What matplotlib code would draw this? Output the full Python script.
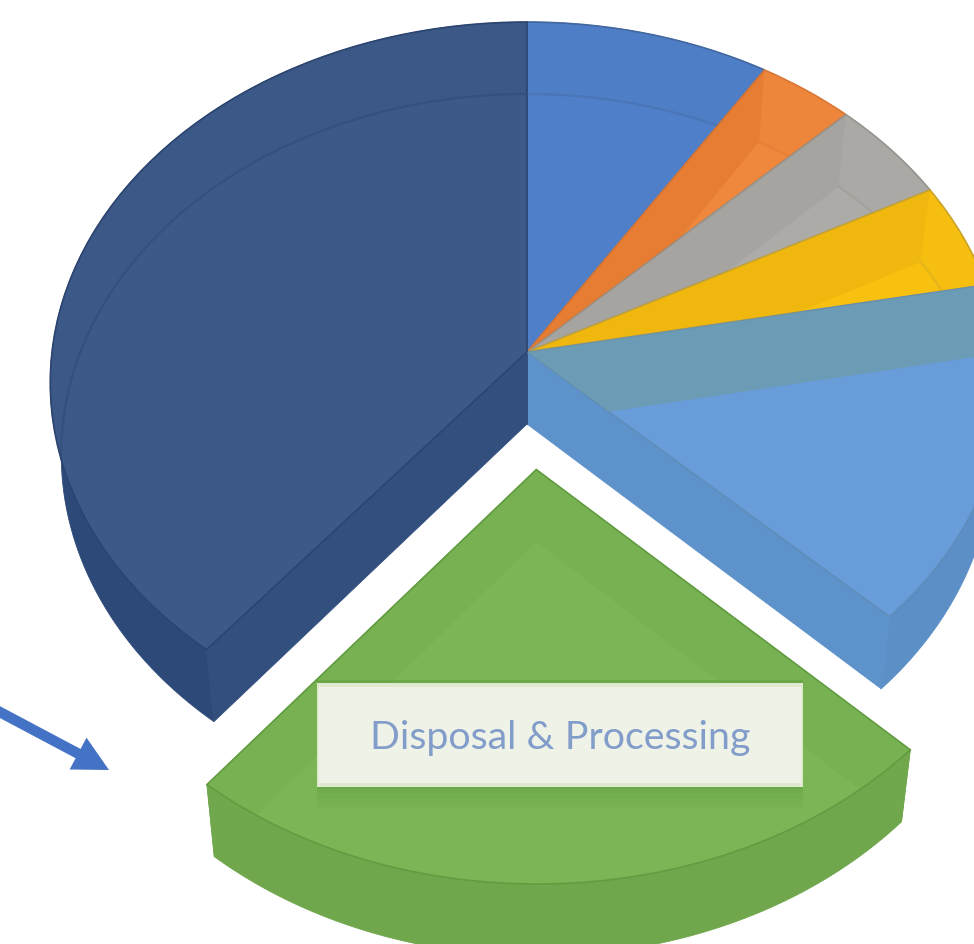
import numpy as np
import matplotlib
matplotlib.use('Agg')
import matplotlib.pyplot as plt
from matplotlib.patches import Polygon, Rectangle
from matplotlib.transforms import Transform

plt.rcParams['font.family'] = ['Lato', 'DejaVu Sans']

# shares of each slice, clockwise from twelve o'clock
shares = [9.0, 3.6, 4.6, 4.75, 15.3, 23.6, 39.15]
pulled_out = [0, 0, 0, 0, 0, 0.32, 0]
callout = 'Disposal & Processing'

top_colors = ['#4f7fc8', '#ef873c', '#adaba8', '#f8c00f', '#689dd9', '#7bb556', '#3c5987']
edge_colors = ['#44689f', '#d9793a', '#96958f', '#c9a52e', '#5f8cbc', '#639c42', '#2c4570']
wall_colors = ['#3f6cb0', '#cf7030', '#8f8d8a', '#d5a30f', '#5d92ca', '#71a84e', '#324f7e']
rim_colors = ['#3f6cb0', '#cf7030', '#8f8d8a', '#d5a30f', '#5b8fc6', '#70a74c', '#2d4978']
seen_through = ['#3c66ad', '#d96f26', '#96948f', '#e0a80c', '#6f9ba6', '#5f9c3c', '#2f4a78']
seen_alpha = [0.2, 0.4, 0.3, 0.3, 0.7, 0.12, 0.1]

CX, CY = 527, 352
RX, RY = 475, 358
TILT = 0.085
DEPTH = 72
FLOOR_SHRINK = 0.977


class TiltTransform(Transform):
    # lays the unit pie on a receding plane, result is in pixels with y going down
    input_dims = 2
    output_dims = 2

    def transform_non_affine(self, values):
        values = np.asarray(values, dtype=float)
        w = 1 + TILT * values[:, 1]
        return np.column_stack([CX + RX * values[:, 0] / w, CY - RY * values[:, 1] / w])


def floor_of(pts):
    return np.column_stack([CX + (pts[:, 0] - CX) * FLOOR_SHRINK, pts[:, 1] + DEPTH])


def arc_of(wedge, n=120):
    t = np.radians(np.linspace(wedge.theta1, wedge.theta2, n))
    u = wedge.center[0] + wedge.r * np.cos(t)
    v = wedge.center[1] + wedge.r * np.sin(t)
    return tilt.transform(np.column_stack([u, v]))


def radial_of(wedge, theta):
    t = np.radians(theta)
    uv = np.array([wedge.center, [wedge.center[0] + wedge.r * np.cos(t), wedge.center[1] + wedge.r * np.sin(t)]])
    return tilt.transform(uv)


def band(top_pts):
    return np.vstack([top_pts, floor_of(top_pts)[::-1]])


fig = plt.figure(figsize=(9.74, 9.44), dpi=100)
ax = fig.add_axes([0, 0, 1, 1])
tilt = TiltTransform()

wedges, _ = ax.pie(shares, startangle=90, counterclock=False, explode=pulled_out, colors=top_colors,
                   wedgeprops={'linewidth': 1.2})
ax.set_aspect('auto')
ax.set_xlim(0, 974)
ax.set_ylim(944, 0)
ax.axis('off')

for i, wedge in enumerate(wedges):
    wedge.set_transform(tilt + ax.transData)
    wedge.set_edgecolor(edge_colors[i])
    wedge.set_zorder(3)

    # outer rim and the two cut faces under the top surface
    arc = arc_of(wedge)
    ax.add_patch(Polygon(band(arc), closed=True, fc=rim_colors[i], ec=rim_colors[i], lw=0.6, zorder=1))
    for theta in (wedge.theta1, wedge.theta2):
        ax.add_patch(Polygon(band(radial_of(wedge, theta)), closed=True, fc=wall_colors[i], ec=wall_colors[i],
                             lw=0.6, zorder=2))

    # the surface is translucent, so the far walls and floor edge show through it
    for theta in (wedge.theta1, wedge.theta2):
        shade = Polygon(band(radial_of(wedge, theta)), closed=True, fc=seen_through[i], ec='none',
                        alpha=seen_alpha[i], zorder=4)
        ax.add_patch(shade)
        shade.set_clip_path(wedge)
    shade = Polygon(band(arc), closed=True, fc=seen_through[i], ec='none', alpha=seen_alpha[i] * 0.2, zorder=4)
    ax.add_patch(shade)
    shade.set_clip_path(wedge)

    floor_arc = floor_of(arc)
    line, = ax.plot(floor_arc[:, 0], floor_arc[:, 1], color=edge_colors[i], lw=1.6, alpha=0.4, zorder=5)
    line.set_clip_path(wedge)

# label box with its soft shadow
box_x, box_y, box_w, box_h = 317, 683, 486, 104
for grow, a in [(26, 0.02), (21, 0.03), (16, 0.04), (11, 0.05), (6, 0.06), (2, 0.08)]:
    ax.add_patch(Rectangle((box_x, box_y - 3), box_w, box_h + 3 + grow, fc='#4d8a2e', ec='none',
                           alpha=a, zorder=6))
ax.add_patch(Rectangle((box_x, box_y), box_w, box_h, fc='#dfe9cf', ec='none', zorder=7))
ax.add_patch(Rectangle((box_x + 2, box_y + 4), box_w - 4, box_h - 8, fc='#eef2e7', ec='none', zorder=8))
ax.text(560, 738, callout, color='#829dca', fontsize=28.4, ha='center', va='center', zorder=9)

# pointer towards the pulled out slice
ax.arrow(-4, 710, 113, 60, width=10.5, head_width=36, head_length=35, length_includes_head=True,
         fc='#4472c4', ec='none', zorder=6)

fig.savefig('out.png', dpi=100)
